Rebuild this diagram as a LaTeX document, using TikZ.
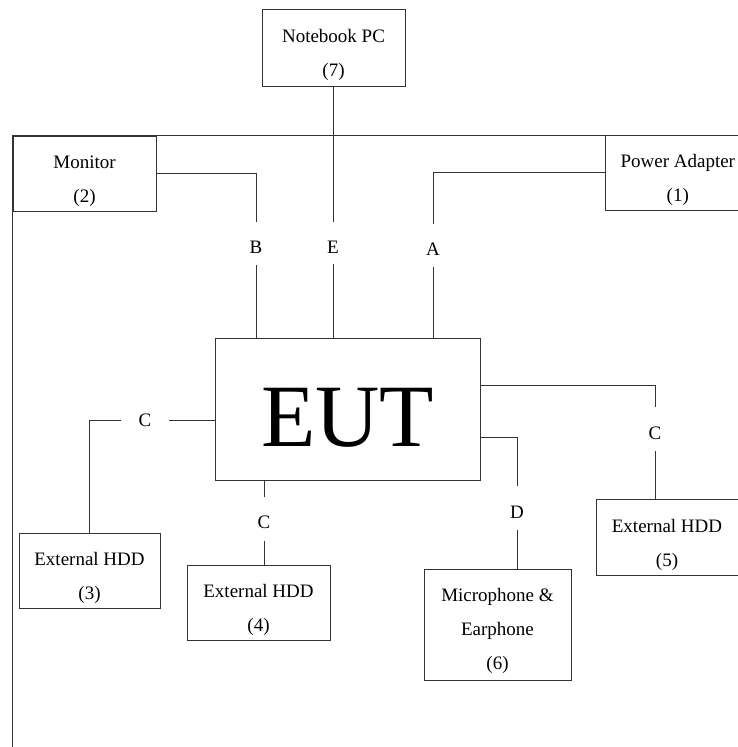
\documentclass[tikz,border=0pt]{standalone}
\usepackage{fontspec}
\setmainfont{Liberation Serif}
\begin{document}
\begin{tikzpicture}[x=1pt,y=-1pt,
  wire/.style={draw=black!80,line width=0.9pt},
  box/.style={draw=black!80,line width=0.9pt,rectangle,inner sep=2pt,align=center,
    font=\fontsize{19}{34}\selectfont,text depth=0pt,text height=58pt},
  tag/.style={inner sep=0pt,font=\fontsize{19}{23}\selectfont}]
\useasboundingbox (0,0) rectangle (737,747);
% frame
\coordinate (fb) at (12,747);
\coordinate (ftl) at (12,135);
\coordinate (ftr) at (737,135);
\draw[wire] (fb) -- (ftl) -- (ftr);
% boxes
\node[box,minimum width=143pt,minimum height=77pt] (pc) at (333.5,47.5) {Notebook PC\\(7)};
\node[box,minimum width=143pt,minimum height=75pt] (mon) at (84.5,173.5) {Monitor\\(2)};
\node[box,minimum width=144pt,minimum height=75pt] (pwr) at (677.8,172.5) {Power Adapter\\(1)};
\node[draw=black!80,line width=0.9pt,rectangle,inner sep=2pt,minimum width=265pt,minimum height=141.5pt,
  font=\fontsize{89}{100}\selectfont,text depth=0pt,text height=75pt] (eut) at (347.5,409.25) {EUT};
\node[box,minimum width=141pt,minimum height=75pt] (hdd3) at (89.5,570.5) {External HDD\\(3)};
\node[box,minimum width=143pt,minimum height=75pt] (hdd4) at (258.5,602.5) {External HDD\\(4)};
\node[box,minimum width=142pt,minimum height=76pt] (hdd5) at (667,537) {External HDD\\(5)};
\node[box,minimum width=147pt,minimum height=111pt,text height=89pt] (mic) at (497.5,624.5) {Microphone \&\\Earphone\\(6)};
% labels
\node[tag] (B) at (256,247) {B};
\node[tag] (E) at (333,247) {E};
\node[tag] (A) at (433,249) {A};
\node[tag] (CL) at (145,420) {C};
\node[tag] (CB) at (264,522) {C};
\node[tag] (CR) at (655,433) {C};
\node[tag] (D) at (517,512) {D};
% line ends near labels
\coordinate (Bt) at (256,222);  \coordinate (Bb) at (256,265);
\coordinate (Et) at (333,222);  \coordinate (Eb) at (333,264);
\coordinate (At) at (433,224);  \coordinate (Ab) at (433,267);
\coordinate (CLr) at (169,420); \coordinate (CLl) at (121,420);
\coordinate (CBt) at (264,497); \coordinate (CBb) at (264,541);
\coordinate (CRt) at (655,407); \coordinate (CRb) at (655,451);
\coordinate (Dt) at (517,486);  \coordinate (Db) at (517,530);
% connectors
\draw[wire] (mon.east) -| (Bt);
\draw[wire] (Bb) -- (Bb |- eut.north);
\draw[wire] (pc.south -| Et) -- (Et);
\draw[wire] (Eb) -- (Eb |- eut.north);
\draw[wire] (pwr.west) -| (At);
\draw[wire] (Ab) -- (Ab |- eut.north);
\draw[wire] (CLr -| eut.west) -- (CLr);
\draw[wire] (CLl) -| (hdd3.north);
\draw[wire] (CBt |- eut.south) -- (CBt);
\draw[wire] (CBb) -- (CBb |- hdd4.north);
\draw[wire] (eut.east |- 0,385) -| (CRt);
\draw[wire] (CRb) -- (CRb |- hdd5.north);
\draw[wire] (eut.east |- 0,437) -| (Dt);
\draw[wire] (Db) -- (Db |- mic.north);
\end{tikzpicture}
\end{document}
